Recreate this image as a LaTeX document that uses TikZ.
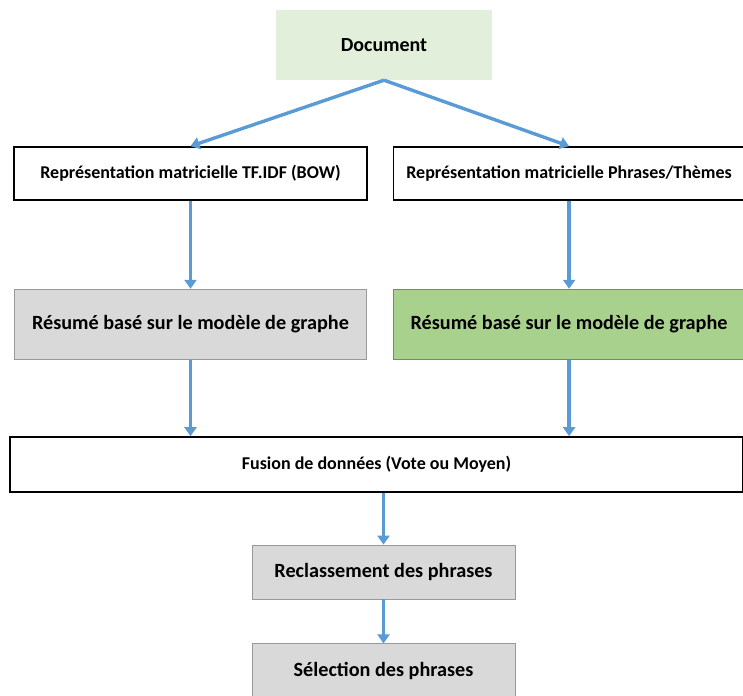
\documentclass[tikz,border=0pt]{standalone}
\usepackage{fontspec}
\setmainfont{Carlito}
\usetikzlibrary{positioning,arrows.meta}

\definecolor{docgreen}{HTML}{E2EFDA}
\definecolor{boxgray}{HTML}{D9D9D9}
\definecolor{boxgreen}{HTML}{A9D18E}
\definecolor{flowblue}{HTML}{5B9BD5}

\tikzset{
  docbox/.style={fill=docgreen, minimum width=216pt, minimum height=70pt, font=\fontsize{20}{24}\selectfont\bfseries},
  matbox/.style={draw=black, line width=1.6pt, fill=white, minimum width=353pt, minimum height=53pt, font=\fontsize{18}{21}\selectfont\bfseries},
  sumbox/.style={draw=black!40, line width=0.8pt, minimum width=352pt, minimum height=70pt, font=\fontsize{20.2}{24}\selectfont\bfseries},
  fusbox/.style={draw=black, line width=1.6pt, fill=white, minimum width=733pt, minimum height=55pt, font=\fontsize{18}{21}\selectfont\bfseries},
  stepbox/.style={draw=black!40, line width=0.8pt, fill=boxgray, minimum width=263pt, minimum height=54pt, font=\fontsize{20.2}{24}\selectfont\bfseries},
  flow/.style={draw=flowblue, line width=3.4pt, -{Triangle[width=12pt,length=9pt]}},
}

\begin{document}
\begin{tikzpicture}[x=1pt,y=1pt]
  \useasboundingbox (0,0) rectangle (743,-695);

  \node[docbox] (doc) at (384,-45) {Document};

  \node[matbox] (matL) at (190.5,-173.5) {Représentation matricielle TF.IDF (BOW)};
  \node[matbox, minimum width=351pt, right=25pt of matL] (matR) {Représentation matricielle Phrases/Thèmes};

  \node[sumbox, fill=boxgray, below=88pt of matL] (sumL) {Résumé basé sur le modèle de graphe};
  \node[sumbox, fill=boxgreen, draw=black!50, minimum width=351pt, below=88pt of matR] (sumR) {Résumé basé sur le modèle de graphe};

  \node[fusbox] (fus) at (376.5,-464.5) {Fusion de données (Vote ou Moyen)};

  \node[stepbox] (recl) at (383.5,-572) {Reclassement des phrases};
  \node[stepbox, below=44pt of recl] (sel) {Sélection des phrases};

  % arrows
  \draw[flow] (doc.south) -- (matL.north);
  \draw[flow] (doc.south) -- (matR.north);
  \draw[flow] (matL.south) -- (sumL.north);
  \draw[flow] (matR.south) -- (sumR.north);
  \draw[flow] (sumL.south) -- (sumL.south |- fus.north);
  \draw[flow] (sumR.south) -- (sumR.south |- fus.north);
  \draw[flow] (recl.north |- fus.south) -- (recl.north);
  \draw[flow] (recl.south) -- (sel.north);
\end{tikzpicture}
\end{document}
